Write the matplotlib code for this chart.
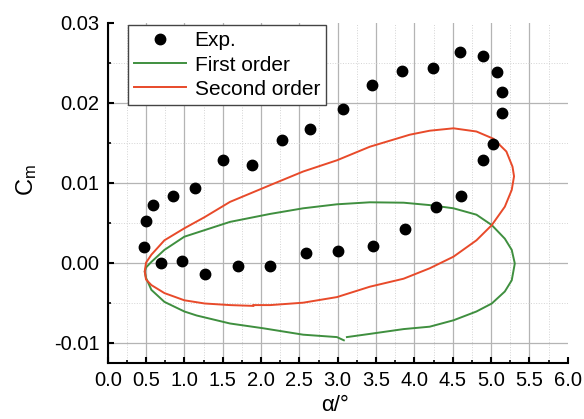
import matplotlib
matplotlib.use("Agg")
import matplotlib.pyplot as plt
from matplotlib.ticker import MultipleLocator, FixedLocator, FixedFormatter

plt.rcParams['font.family'] = ['Liberation Sans', 'DejaVu Sans']
plt.rcParams['mathtext.default'] = 'regular'

# Experimental data
exp_x = [0.69, 0.97, 1.27, 1.70, 2.12, 2.59, 3.01, 3.46, 3.88, 4.28, 4.61, 4.89, 5.02, 5.14, 5.14,
         5.08, 4.89, 4.59, 4.24, 3.84, 3.45, 3.07, 2.64, 2.28, 1.885, 1.50, 1.14, 0.855, 0.595, 0.50, 0.47]
exp_y = [0.0000, 0.0002, -0.0014, -0.0004, -0.0004, 0.00125, 0.0014, 0.0021, 0.00425, 0.0070, 0.0083,
         0.0128, 0.0148, 0.01875, 0.0213, 0.0238, 0.0258, 0.0263, 0.0243, 0.0240, 0.0222, 0.0192,
         0.0167, 0.0153, 0.0122, 0.0129, 0.0093, 0.0083, 0.0072, 0.0052, 0.0019]

# First order model
first_x = [3.12, 3.42, 3.86, 4.20, 4.51, 4.81, 5.01, 5.18, 5.27, 5.31, 5.27, 5.18, 5.01, 4.81, 4.51,
           4.20, 3.86, 3.42, 2.99, 2.55, 2.12, 1.595, 1.00, 0.74, 0.57, 0.50, 0.483, 0.50, 0.57,
           0.74, 1.00, 1.16, 1.595, 2.03, 2.55, 2.99, 3.08]
first_y = [-0.0093, -0.0089, -0.0083, -0.0080, -0.0072, -0.0061, -0.0051, -0.0036, -0.0022, -0.0001,
           0.0016, 0.0030, 0.0047, 0.0060, 0.0068, 0.0072, 0.0075, 0.00755, 0.0073, 0.0068, 0.0061,
           0.0051, 0.00325, 0.0016, 0.0001, -0.0006, -0.0011, -0.0019, -0.0034, -0.0049, -0.0061,
           -0.0066, -0.0076, -0.0082, -0.0090, -0.0093, -0.0097]

# Second order model
second_x = [1.90, 2.12, 2.55, 2.99, 3.42, 3.86, 4.20, 4.51, 4.81, 5.01, 5.18, 5.27, 5.30, 5.28, 5.20,
            5.03, 4.81, 4.51, 4.20, 3.94, 3.42, 2.99, 2.55, 2.12, 1.595, 1.265, 1.00, 0.74, 0.57,
            0.50, 0.483, 0.50, 0.57, 0.74, 1.00, 1.265, 1.595, 1.90]
second_y = [-0.0053, -0.0053, -0.0050, -0.0043, -0.0030, -0.0020, -0.0007, 0.00075, 0.0028, 0.0047,
            0.0070, 0.0091, 0.0108, 0.0120, 0.0139, 0.0155, 0.0164, 0.0168, 0.0165, 0.0160, 0.0145,
            0.0128, 0.0114, 0.0097, 0.0076, 0.0057, 0.0043, 0.0028, 0.0010, 0.0000, -0.0011,
            -0.0021, -0.0028, -0.0038, -0.0047, -0.0051, -0.0053, -0.0054]

xtick_vals = [0.0, 0.5, 1.0, 1.5, 2.0, 2.5, 3.0, 3.5, 4.0, 4.5, 5.0, 5.5, 6.0]
xtick_labels = ['0.0', '0.5', '1.0', '1.5', '2.0', '2.5', '3.0', '3.5', '4.0', '4.5', '5.0', '5.5', '6.0']
ytick_vals = [-0.01, 0.00, 0.01, 0.02, 0.03]
ytick_labels = ['-0.01', '0.00', '0.01', '0.02', '0.03']

fig = plt.figure(figsize=(5.84, 4.19), dpi=100)
ax = fig.add_axes([0.1844, 0.1344, 0.7877, 0.8114])

green = '#3f8f3f'
red = '#e84a2a'

ax.plot(exp_x, exp_y, 'o', color='black', markersize=7.5, label='Exp.', zorder=4)
ax.plot(first_x, first_y, '-', color=green, lw=1.4, label='First order', zorder=3)
ax.plot(second_x, second_y, '-', color=red, lw=1.4, label='Second order', zorder=3)

ax.set_xlim(0, 6.0)
ax.set_ylim(-0.0125, 0.03)

ax.xaxis.set_major_locator(FixedLocator(xtick_vals))
ax.xaxis.set_major_formatter(FixedFormatter(xtick_labels))
ax.xaxis.set_minor_locator(MultipleLocator(0.25))
ax.yaxis.set_major_locator(FixedLocator(ytick_vals))
ax.yaxis.set_major_formatter(FixedFormatter(ytick_labels))
ax.yaxis.set_minor_locator(MultipleLocator(0.005))

ax.grid(True, which='major', color='#b4b4b4', lw=0.9, ls='-', zorder=0)
ax.grid(True, which='minor', color='#d4d4d4', lw=0.7, ls=':', zorder=0)
ax.set_axisbelow(True)

for s in ['top', 'right']:
    ax.spines[s].set_visible(False)
for s in ['left', 'bottom']:
    ax.spines[s].set_linewidth(1.5)

ax.tick_params(which='major', direction='in', length=4, width=1.5, labelsize=14.5)
ax.tick_params(which='minor', direction='in', length=2.5, width=1.2)
ax.tick_params(axis='x', which='major', pad=6)
ax.tick_params(axis='y', which='major', pad=6)
ax.tick_params(top=False, right=False, which='both')

ax.set_xlabel('α/°', fontsize=16)
ax.xaxis.set_label_coords(0.494, -0.095)
ax.set_ylabel('C$_{m}$', fontsize=17)
ax.yaxis.set_label_coords(-0.15, 0.537)

leg = ax.legend(loc='upper left', bbox_to_anchor=(0.044, 0.993), borderaxespad=0,
                fontsize=15, frameon=True, fancybox=False, edgecolor='#444444',
                handlelength=2.5, handletextpad=0.4, labelspacing=0.25, borderpad=0.3,
                framealpha=1.0)
leg.get_frame().set_linewidth(1.0)

fig.canvas.draw()
# hide gridlines on the open top/right edges
xg = ax.xaxis.get_gridlines()
xg[-1].set_visible(False)
yg = ax.yaxis.get_gridlines()
yg[-1].set_visible(False)

fig.savefig('out.png', dpi=100)
